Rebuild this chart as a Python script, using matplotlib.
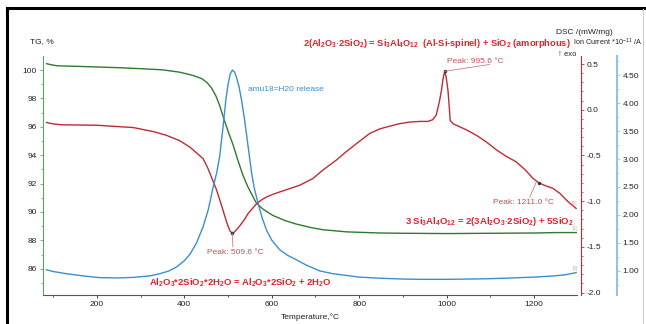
import matplotlib
matplotlib.use('Agg')
import matplotlib.pyplot as plt
from matplotlib.lines import Line2D
from matplotlib.ticker import MultipleLocator

plt.rcParams['font.family'] = ['Liberation Sans', 'DejaVu Sans']
plt.rcParams['mathtext.fontset'] = 'custom'
plt.rcParams['mathtext.rm'] = 'Liberation Sans'
plt.rcParams['mathtext.default'] = 'regular'

# TG curve (%)
tg_t = [85, 100, 110, 150, 200, 250, 300, 350, 390, 420, 440, 452, 462, 472,
        481, 489, 500, 512, 522, 534, 545, 555, 565, 580, 603, 630, 656, 690,
        717, 771, 847, 900, 1000, 1100, 1200, 1250, 1298]
tg_v = [100.45, 100.35, 100.3, 100.27, 100.22, 100.17, 100.1, 100.02, 99.85,
        99.62, 99.4, 99.12, 98.75, 98.2, 97.5, 96.7, 95.7, 94.7, 93.7, 92.6,
        91.8, 91.2, 90.62, 90.2, 89.75, 89.4, 89.15, 88.9, 88.75, 88.6,
        88.52, 88.5, 88.48, 88.5, 88.52, 88.55, 88.55]

# DSC curve (mW/mg)
dsc_t = [85, 100, 120, 200, 283, 330, 359, 390, 413, 443, 454, 464, 474, 484,
         493, 499, 505, 509.6, 514, 520, 527, 537, 546, 556, 565, 577, 588,
         603, 618, 640, 664, 679, 694, 717, 748, 770, 794, 824, 847, 862, 890,
         915, 940, 957, 968, 976, 983, 988, 992, 995.6, 999, 1003, 1006, 1008,
         1015, 1022, 1045, 1068, 1090, 1114, 1136, 1159, 1180, 1197, 1211,
         1225, 1243, 1260, 1274, 1286, 1296]
dsc_v = [-0.14, -0.155, -0.165, -0.17, -0.195, -0.24, -0.28, -0.34, -0.41,
         -0.535, -0.64, -0.76, -0.88, -1.03, -1.17, -1.26, -1.33, -1.35,
         -1.34, -1.31, -1.27, -1.205, -1.135, -1.08, -1.03, -0.985, -0.955,
         -0.925, -0.9, -0.865, -0.826, -0.79, -0.753, -0.66, -0.55, -0.46,
         -0.37, -0.26, -0.21, -0.19, -0.155, -0.135, -0.128, -0.128, -0.11,
         -0.06, 0.08, 0.21, 0.35, 0.42, 0.35, 0.21, 0.02, -0.117, -0.155,
         -0.17, -0.22, -0.28, -0.35, -0.44, -0.51, -0.57, -0.66, -0.75, -0.8,
         -0.83, -0.86, -0.92, -0.99, -1.04, -1.08]

# Ion current amu18 (*10^-11 A)
ion_t = [85, 100, 131, 170, 207, 250, 283, 320, 344, 365, 382, 400, 413, 428,
         443, 455, 466, 474, 481, 489, 495, 500, 505, 510, 515, 519, 525, 531,
         537, 542, 548, 554, 560, 569, 578, 588, 600, 618, 636, 656, 680, 710,
         740, 771, 800, 847, 900, 938, 1000, 1050, 1091, 1150, 1200, 1243,
         1270, 1296]
ion_v = [1.02, 0.99, 0.95, 0.91, 0.88, 0.875, 0.885, 0.91, 0.95, 1.0, 1.07,
         1.18, 1.3, 1.5, 1.79, 2.1, 2.5, 2.75, 3.05, 3.6, 4.05, 4.33, 4.52,
         4.59, 4.55, 4.47, 4.3, 4.05, 3.75, 3.46, 3.1, 2.75, 2.48, 2.2, 1.95,
         1.73, 1.55, 1.38, 1.28, 1.2, 1.1, 1.0, 0.95, 0.92, 0.89, 0.87, 0.855,
         0.85, 0.85, 0.855, 0.86, 0.875, 0.89, 0.91, 0.93, 0.97]

peaks_t = [509.6, 995.6, 1211.0]
peaks_v = [-1.35, 0.42, -0.80]

green = '#2f7a2f'
red = '#bf2b33'
blue = '#3a8fd0'
txt_red = '#e0202a'

fig = plt.figure(figsize=(6.46, 3.24), dpi=100)
ax = fig.add_axes([0.0666, 0.0895, 0.8266, 0.7375])
ax2 = ax.twinx()
ax3 = ax.twinx()

ax.plot(tg_t, tg_v, color=green, lw=1.0)
ax2.plot(dsc_t, dsc_v, color=red, lw=1.0)
ax3.plot(ion_t, ion_v, color=blue, lw=1.0)
ax2.plot(peaks_t, peaks_v, 'o', color='#333333', ms=1.5)

ax.set_xlim(77, 1298)
ax.set_ylim(84.15, 100.99)
ax2.set_ylim(-2.027, 0.587)
ax3.set_ylim(0.57, 4.84)

for a in (ax, ax2, ax3):
    a.spines['top'].set_visible(False)
ax.spines['right'].set_visible(False)
ax2.spines['left'].set_visible(False)
ax3.spines['left'].set_visible(False)
ax2.spines['bottom'].set_visible(False)
ax3.spines['bottom'].set_visible(False)
ax.spines['left'].set_color('#5fa55f')
ax.spines['bottom'].set_color('#555555')
ax2.spines['right'].set_color(red)
ax2.spines['right'].set_position(('outward', 3))
ax3.spines['right'].set_color('#8cc4ea')
ax3.spines['right'].set_linewidth(1.5)
ax3.spines['right'].set_position(('outward', 29))

ax.xaxis.set_major_locator(MultipleLocator(200))
ax.xaxis.set_minor_locator(MultipleLocator(100))
ax.yaxis.set_major_locator(MultipleLocator(2))
ax.yaxis.set_minor_locator(MultipleLocator(1))
ax2.yaxis.set_major_locator(MultipleLocator(0.5))
ax2.yaxis.set_minor_locator(MultipleLocator(0.1))
ax3.yaxis.set_major_locator(MultipleLocator(0.5))
ax3.yaxis.set_minor_locator(MultipleLocator(0.25))
ax2.yaxis.set_major_formatter(plt.FormatStrFormatter('%.1f'))
ax3.yaxis.set_major_formatter(plt.FormatStrFormatter('%.2f'))

ax.tick_params(axis='both', which='major', labelsize=6, length=2.5,
               width=0.6, pad=2, colors='#222222')
ax.tick_params(axis='both', which='minor', length=1.5, width=0.5)
ax.tick_params(axis='y', which='both', color='#5fa55f')
ax2.tick_params(axis='y', which='major', labelsize=6, length=2.5,
                width=0.6, pad=1.5, color=red, labelcolor='#222222')
ax2.tick_params(axis='y', which='minor', length=1.5, width=0.5, color=red)
ax3.tick_params(axis='y', which='major', labelsize=6, length=2.5,
                width=0.6, pad=1.5, color='#8cc4ea', labelcolor='#222222')
ax3.tick_params(axis='y', which='minor', length=1.5, width=0.5,
                color='#8cc4ea')

ax.set_xlabel('Temperature,\u00b0C', fontsize=6, labelpad=4, color='#222222')

# header texts
fig.text(30 / 646, 1 - 42 / 324, 'TG, %', fontsize=6, va='center',
         color='#222222')
fig.text(556 / 646, 1 - 32 / 324, 'DSC /(mW/mg)', fontsize=6, va='center',
         color='#222222')
fig.text(573 / 646, 1 - 42 / 324, r'Ion Current *10$^{-11}$ /A', fontsize=5.2,
         va='center', color='#222222')
fig.text(558 / 646, 1 - 54 / 324, '\u2191 exo', fontsize=5.5, va='center',
         color='#222222')
fig.text(571 / 646, 1 - 43 / 324,
         r'2(Al$_2$O$_3$$\cdot$2SiO$_2$) = Si$_3$Al$_4$O$_{12}$  '
         r'(Al-Si-spinel) + SiO$_2$ (amorphous)',
         fontsize=6.7, fontweight='bold', color=txt_red, ha='right',
         va='center')

# annotations on the DSC axis
ax2.text(1290, -1.22,
         r'3 Si$_3$Al$_4$O$_{12}$ = 2(3Al$_2$O$_3$$\cdot$2SiO$_2$) + 5SiO$_2$',
         fontsize=6.8, fontweight='bold', color=txt_red, ha='right',
         va='center')
ax2.text(529, -1.896,
         r'Al$_2$O$_3$*2SiO$_2$*2H$_2$O = Al$_2$O$_3$*2SiO$_2$ + 2H$_2$O',
         fontsize=6.8, fontweight='bold', color=txt_red, ha='center',
         va='center')
ax3.text(545, 4.25, 'amu18=H20 release', fontsize=6, color=blue,
         va='center')

ax2.plot([509.6, 511], [-1.35, -1.50], color='#c98088', lw=0.6)
ax2.text(517, -1.566, 'Peak: 509.6 \u00b0C', fontsize=6, color='#c0505a',
         ha='center', va='center')
ax2.plot([995.6, 1098], [0.42, 0.495], color='#c98088', lw=0.6)
ax2.text(1066, 0.527, 'Peak: 995.6 \u00b0C', fontsize=6, color='#c0505a',
         ha='center', va='center')
ax2.plot([1205, 1190], [-0.79, -0.957], color='#c98088', lw=0.6)
ax2.text(1176, -1.01, 'Peak: 1211.0 \u00b0C', fontsize=6, color='#c0505a',
         ha='center', va='center')

# tiny curve tags at the right end
ax2.text(1292, -1.03, '[1]', fontsize=3.5, color='#e59aa0', ha='center',
         va='center')
ax.text(1294, 88.85, '[1]', fontsize=3.5, color='#9ccf9c', ha='center',
        va='center')
ax3.text(1294, 1.05, '[3]', fontsize=3.5, color='#8cc4ea', ha='center',
         va='center')

# page frame
fig.add_artist(Line2D([7 / 646, 7 / 646], [0, 1 - 8 / 324], color='black',
                      lw=2.2, transform=fig.transFigure))
fig.add_artist(Line2D([7 / 646, 1], [1 - 8 / 324, 1 - 8 / 324],
                      color='black', lw=2.2, transform=fig.transFigure))
fig.add_artist(Line2D([643 / 646, 643 / 646], [0, 1 - 9 / 324],
                      color='#cccccc', lw=0.8, transform=fig.transFigure))

fig.savefig('out.png', dpi=100)
